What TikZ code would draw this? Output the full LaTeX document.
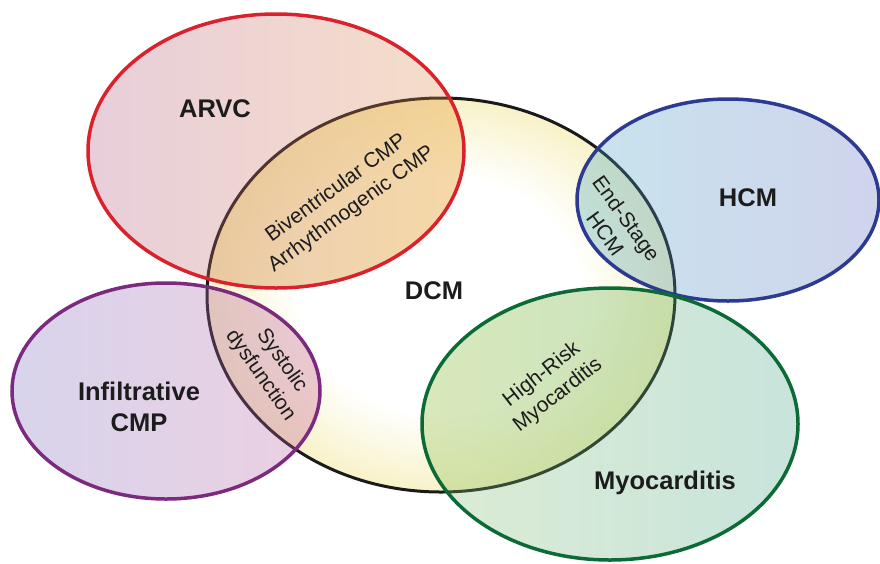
\documentclass[tikz,border=0pt]{standalone}
\usepackage{fontspec}
\setmainfont{Liberation Sans}
\definecolor{dcmyel}{HTML}{F8F2C8}
\definecolor{arvcL}{RGB}{178,92,132}
\definecolor{arvcR}{RGB}{225,145,72}
\definecolor{hcmL}{RGB}{72,165,198}
\definecolor{hcmR}{RGB}{98,112,192}
\definecolor{infL}{RGB}{125,112,192}
\definecolor{infR}{RGB}{192,98,158}
\definecolor{myoL}{RGB}{138,192,112}
\definecolor{myoR}{RGB}{72,165,138}
\definecolor{tintA}{HTML}{FFF09A}
\definecolor{tintM}{HTML}{F2F29A}
\definecolor{tintI}{HTML}{FFE2C0}
\definecolor{tintH}{HTML}{EAF6C4}
\definecolor{redline}{HTML}{D9222C}
\definecolor{blueline}{HTML}{2C3A92}
\definecolor{purpleline}{HTML}{7C2A7E}
\definecolor{greenline}{HTML}{0B6A36}
\definecolor{blackline}{HTML}{1A1A1A}
\definecolor{txt}{HTML}{1C1C1C}
\pgfdeclareradialshading{dcmshade}{\pgfpoint{0bp}{0bp}}{color(0bp)=(white); color(15bp)=(white); color(25bp)=(dcmyel); color(50bp)=(dcmyel)}
\begin{document}
\begin{tikzpicture}[x=1pt,y=-1pt,
  ring/.style={line width=3.5pt},
  setfill/.style={fill opacity=0.3},
  biglabel/.style={font=\bfseries\fontsize{25.5}{31}\selectfont, text=txt, align=center, inner sep=0pt},
  smalllabel/.style={font=\fontsize{21}{26}\selectfont, text=txt, align=center, inner sep=0pt}]
\useasboundingbox (0,0) rectangle (880,563);
% DCM
\path[shading=dcmshade] (441,295) ellipse [x radius=234pt, y radius=197pt];
\begin{scope}
  \clip (441,295) ellipse [x radius=234pt, y radius=197pt];
  \fill[tintA, fill opacity=0.45] (276,151) ellipse [x radius=188pt, y radius=137pt];
  \fill[tintM, fill opacity=0.35] (610,424) ellipse [x radius=188pt, y radius=136pt];
  \fill[tintI, fill opacity=0.3] (166,391) ellipse [x radius=154pt, y radius=108pt];
  \fill[tintH, fill opacity=0.3] (728,200) ellipse [x radius=151pt, y radius=101pt];
\end{scope}
\draw[ring, line width=3pt, blackline] (441,295) ellipse [x radius=234pt, y radius=197pt];
% ARVC
\shade[setfill, left color=arvcL, right color=arvcR] (276,151) ellipse [x radius=188pt, y radius=137pt];
\draw[ring, redline] (276,151) ellipse [x radius=188pt, y radius=137pt];
% HCM
\shade[setfill, left color=hcmL, right color=hcmR] (728,200) ellipse [x radius=151pt, y radius=101pt];
\draw[ring, blueline] (728,200) ellipse [x radius=151pt, y radius=101pt];
% Infiltrative
\shade[setfill, left color=infL, right color=infR] (166,391) ellipse [x radius=154pt, y radius=108pt];
\draw[ring, purpleline] (166,391) ellipse [x radius=154pt, y radius=108pt];
% Myocarditis
\shade[setfill, left color=myoL, right color=myoR] (610,424) ellipse [x radius=188pt, y radius=136pt];
\draw[ring, greenline] (610,424) ellipse [x radius=188pt, y radius=136pt];
% labels
\node[biglabel] (arvc) at (215,109) {ARVC};
\node[biglabel] (dcm) at (434,291) {DCM};
\node[biglabel] (hcm) at (748,198) {HCM};
\node[biglabel] (inf) at (139,407) {Infiltrative\\CMP};
\node[biglabel] (myo) at (665,483) {Myocarditis};
\node[smalllabel, rotate=36] (bi) at (344,199) {Biventricular CMP\\Arrhythmogenic CMP};
\node[smalllabel, rotate=-54] (end) at (616,226) {End-Stage\\HCM};
\node[smalllabel, rotate=-55] (sys) at (271,368) {Systolic\\dysfunction};
\node[smalllabel, rotate=38] (hr) at (550,385) {High-Risk\\Myocarditis};
\end{tikzpicture}
\end{document}
